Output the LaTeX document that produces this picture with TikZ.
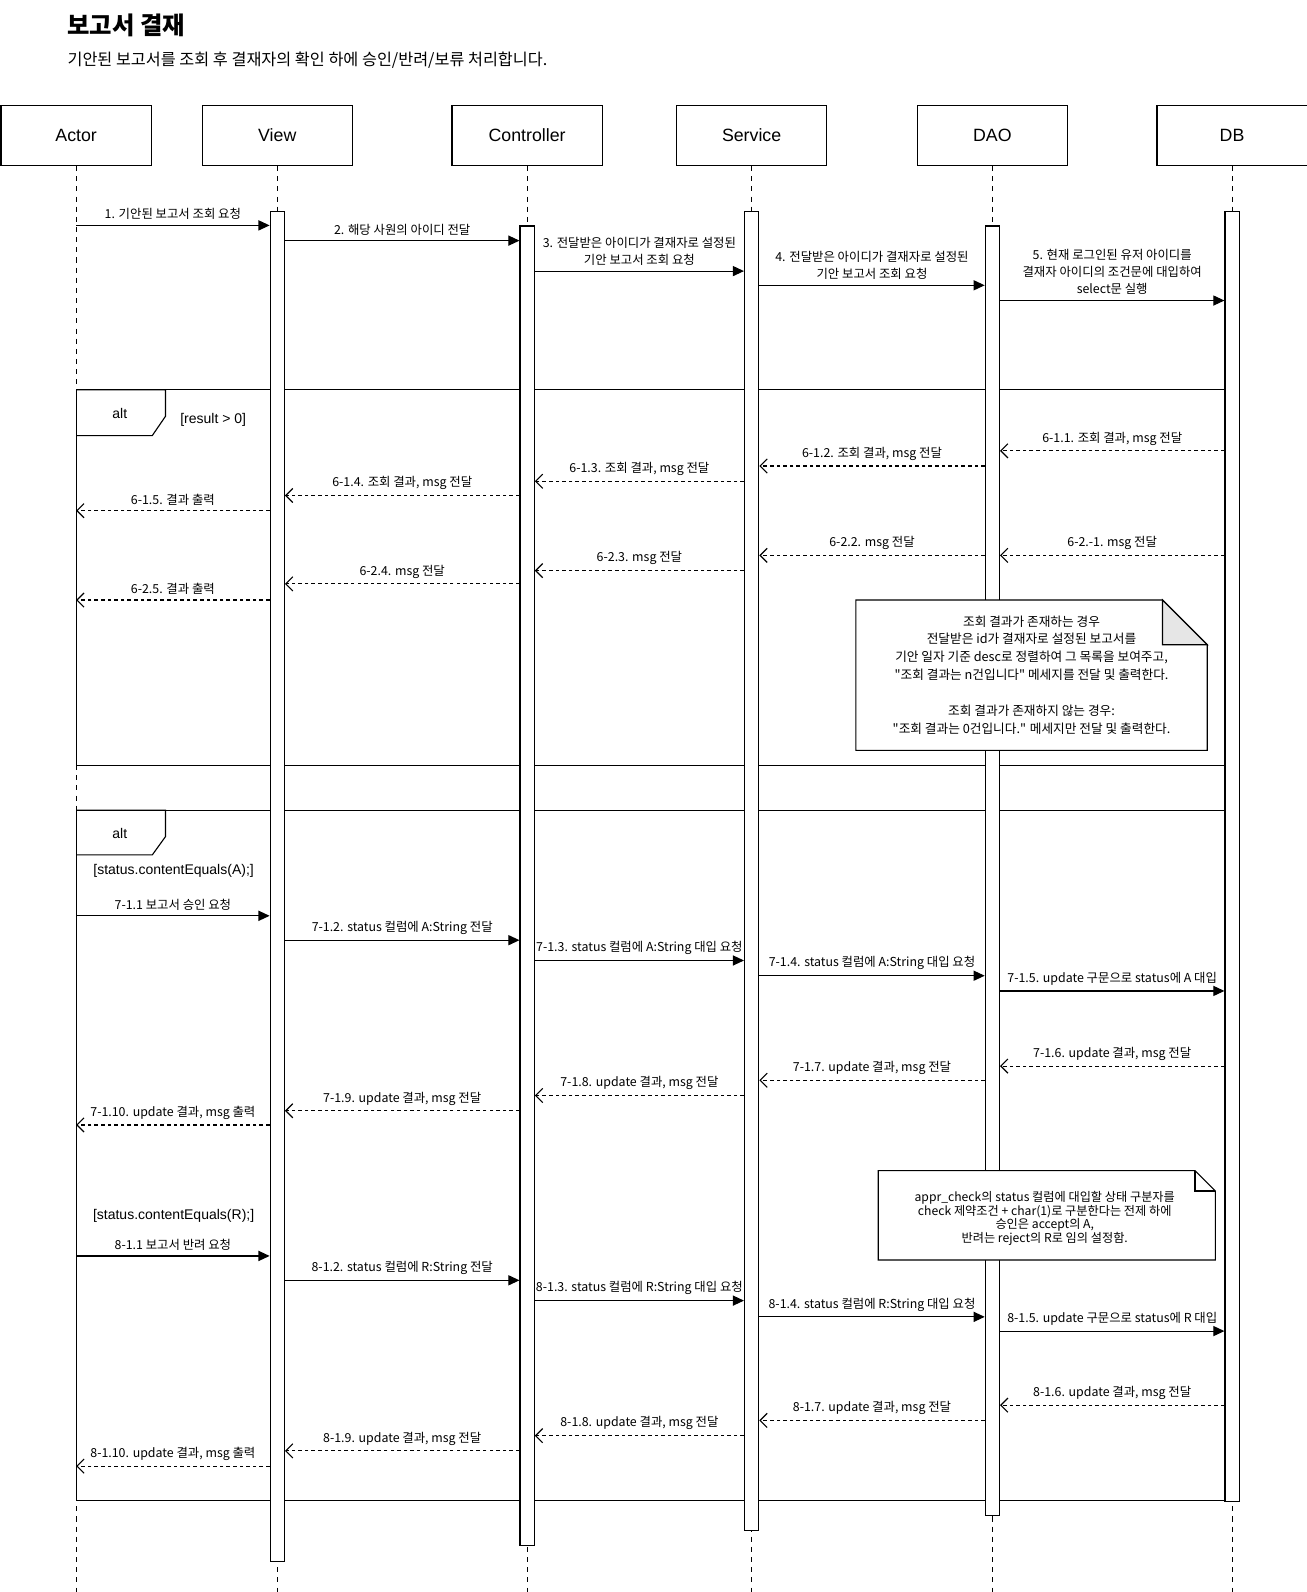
\documentclass[tikz,border=0pt]{standalone}
\usepackage{fontspec}
\setmainfont{Noto Sans CJK KR}
\newfontfamily\arialf{Liberation Sans}
\usetikzlibrary{positioning,arrows.meta}
\definecolor{fold}{RGB}{230,230,230}

\begin{document}
\begin{tikzpicture}[x=1pt,y=-1pt,line width=1.1pt,
  part/.style={draw,minimum width=148pt,minimum height=59pt,inner sep=0pt,
    font=\arialf\fontsize{17.5}{20}\selectfont},
  life/.style={line width=0.9pt,dash pattern=on 5pt off 5pt},
  bar/.style={draw,fill=white,minimum width=14pt,inner sep=0pt,anchor=north},
  call/.style={-{Triangle[length=11pt,width=10pt]}},
  ret/.style={dash pattern=on 3.5pt off 3pt,-{Straight Barb[length=7pt,width=14pt]}},
  lbl/.style={above=4pt,inner sep=1pt,align=center,font=\fontsize{12.2}{17}\selectfont},
  guard/.style={inner sep=0pt,font=\arialf\fontsize{13.8}{16}\selectfont},
  notetxt/.style={inner sep=0pt,align=center}]
  \useasboundingbox (0,0) rectangle (1287,1568);

  % title
  \node[anchor=west,inner sep=0pt,font=\bfseries\fontsize{24}{26}\selectfont] (title) at (66,25) {보고서 결재};
  \node[anchor=west,inner sep=0pt,font=\fontsize{16}{18}\selectfont] (sub) at (66,59)
    {기안된 보고서를 조회 후 결재자의 확인 하에 승인/반려/보류 처리합니다.};

  % participants
  \node[part] (actor) at (75,133.5) {Actor};
  \node[part,right=49pt of actor] (view) {View};
  \node[part,right=97pt of view] (ctrl) {Controller};
  \node[part,right=72pt of ctrl] (svc) {Service};
  \node[part,right=88pt of svc] (dao) {DAO};
  \node[part,right=87pt of dao] (db) {DB};
  \foreach \p in {actor,view,ctrl,svc,dao,db}
    \draw[life] (\p.south) -- (\p |- 0,1568);

  % alt frames
  \draw (actor |- 0,384) rectangle (1206,754);
  \draw (actor |- 0,384) -| (163,410) -- (150,429) -- (actor |- 0,429);
  \node[guard] (alt1) at (118,407) {alt};
  \node[guard] (g1) at (210,414) {[result > 0]};
  \draw (actor |- 0,798) rectangle (1206,1478);
  \draw (actor |- 0,798) -| (163,824) -- (150,842) -- (actor |- 0,842);
  \node[guard] (alt2) at (118,821) {alt};
  \node[guard] (g2) at (171,858) {[status.contentEquals(A);]};
  \node[guard] (g3) at (171,1198) {[status.contentEquals(R);]};

  % activations
  \node[bar,minimum height=1329pt] (vbar) at (view |- 0,208) {};
  \node[bar,minimum height=1300pt] (cbar) at (ctrl |- 0,222) {};
  \node[bar,minimum height=1299pt] (sbar) at (svc |- 0,208) {};
  \node[bar,minimum height=1270pt] (obar) at (dao |- 0,222) {};
  \node[bar,minimum height=1270pt] (bbar) at (db |- 0,208) {};

  % select
  \draw[call] (actor |- 0,222) -- (vbar.west |- 0,222) node[lbl,midway] {1. 기안된 보고서 조회 요청};
  \draw[call] (vbar.east |- 0,237) -- (cbar.west |- 0,237) node[lbl,midway] {2. 해당 사원의 아이디 전달};
  \draw[call] (cbar.east |- 0,267) -- (sbar.west |- 0,267) node[lbl,midway] {3. 전달받은 아이디가 결재자로 설정된\\기안 보고서 조회 요청};
  \draw[call] (sbar.east |- 0,281) -- (obar.west |- 0,281) node[lbl,midway] {4. 전달받은 아이디가 결재자로 설정된\\기안 보고서 조회 요청};
  \draw[call] (obar.east |- 0,296) -- (bbar.west |- 0,296) node[lbl,midway] {5. 현재 로그인된 유저 아이디를\\결재자 아이디의 조건문에 대입하여\\select문 실행};

  \draw[ret] (bbar.west |- 0,444) -- (obar.east |- 0,444) node[lbl,midway] {6-1.1. 조회 결과, msg 전달};
  \draw[ret] (obar.west |- 0,459) -- (sbar.east |- 0,459) node[lbl,midway] {6-1.2. 조회 결과, msg 전달};
  \draw[ret] (sbar.west |- 0,474) -- (cbar.east |- 0,474) node[lbl,midway] {6-1.3. 조회 결과, msg 전달};
  \draw[ret] (cbar.west |- 0,488) -- (vbar.east |- 0,488) node[lbl,midway] {6-1.4. 조회 결과, msg 전달};
  \draw[ret] (vbar.west |- 0,503) -- (actor |- 0,503) node[lbl,midway] {6-1.5. 결과 출력};

  \draw[ret] (bbar.west |- 0,547) -- (obar.east |- 0,547) node[lbl,midway] {6-2.-1. msg 전달};
  \draw[ret] (obar.west |- 0,547) -- (sbar.east |- 0,547) node[lbl,midway] {6-2.2. msg 전달};
  \draw[ret] (sbar.west |- 0,562) -- (cbar.east |- 0,562) node[lbl,midway] {6-2.3. msg 전달};
  \draw[ret] (cbar.west |- 0,575) -- (vbar.east |- 0,575) node[lbl,midway] {6-2.4. msg 전달};
  \draw[ret] (vbar.west |- 0,591) -- (actor |- 0,591) node[lbl,midway] {6-2.5. 결과 출력};

  % note 1
  \draw[fill=white] (843,591) -- (1145,591) -- (1189,635) -- (1189,739) -- (843,739) -- cycle;
  \draw[fill=fold] (1145,591) -- (1145,635) -- (1189,635) -- cycle;
  \node[notetxt,font=\fontsize{12.5}{17.7}\selectfont] (note1) at (1016,665)
    {조회 결과가 존재하는 경우\\전달받은 id가 결재자로 설정된 보고서를\\기안 일자 기준 desc로 정렬하여 그 목록을 보여주고,\\
     \textquotedbl 조회 결과는 n건입니다\textquotedbl{} 메세지를 전달 및 출력한다.\\[17.7pt]
     조회 결과가 존재하지 않는 경우:\\\textquotedbl 조회 결과는 0건입니다.\textquotedbl{} 메세지만 전달 및 출력한다.};

  % approve
  \draw[call] (actor |- 0,902) -- (vbar.west |- 0,902) node[lbl,midway] {7-1.1 보고서 승인 요청};
  \draw[call] (vbar.east |- 0,926) -- (cbar.west |- 0,926) node[lbl,midway] {7-1.2. status 컬럼에 A:String 전달};
  \draw[call] (cbar.east |- 0,946) -- (sbar.west |- 0,946) node[lbl,midway] {7-1.3. status 컬럼에 A:String 대입 요청};
  \draw[call] (sbar.east |- 0,961) -- (obar.west |- 0,961) node[lbl,midway] {7-1.4. status 컬럼에 A:String 대입 요청};
  \draw[call] (obar.east |- 0,976) -- (bbar.west |- 0,976) node[lbl,midway] {7-1.5. update 구문으로 status에 A 대입};
  \draw[ret] (bbar.west |- 0,1050) -- (obar.east |- 0,1050) node[lbl,midway] {7-1.6. update 결과, msg 전달};
  \draw[ret] (obar.west |- 0,1064) -- (sbar.east |- 0,1064) node[lbl,midway] {7-1.7. update 결과, msg 전달};
  \draw[ret] (sbar.west |- 0,1079) -- (cbar.east |- 0,1079) node[lbl,midway] {7-1.8. update 결과, msg 전달};
  \draw[ret] (cbar.west |- 0,1094) -- (vbar.east |- 0,1094) node[lbl,midway] {7-1.9. update 결과, msg 전달};
  \draw[ret] (vbar.west |- 0,1108) -- (actor |- 0,1108) node[lbl,midway] {7-1.10. update 결과, msg 출력};

  % note 2
  \draw[fill=white] (865,1153) -- (1177,1153) -- (1197,1173) -- (1197,1241) -- (865,1241) -- cycle;
  \draw (1177,1153) -- (1177,1173) -- (1197,1173);
  \node[notetxt,font=\fontsize{12}{13.7}\selectfont] (note2) at (1029,1200)
    {appr\_check의 status 컬럼에 대입할 상태 구분자를\\check 제약조건 + char(1)로 구분한다는 전제 하에\\
     승인은 accept의 A,\\반려는 reject의 R로 임의 설정함.};

  % reject
  \draw[call] (actor |- 0,1237) -- (vbar.west |- 0,1237) node[lbl,midway] {8-1.1 보고서 반려 요청};
  \draw[call] (vbar.east |- 0,1261) -- (cbar.west |- 0,1261) node[lbl,midway] {8-1.2. status 컬럼에 R:String 전달};
  \draw[call] (cbar.east |- 0,1281) -- (sbar.west |- 0,1281) node[lbl,midway] {8-1.3. status 컬럼에 R:String 대입 요청};
  \draw[call] (sbar.east |- 0,1297) -- (obar.west |- 0,1297) node[lbl,midway] {8-1.4. status 컬럼에 R:String 대입 요청};
  \draw[call] (obar.east |- 0,1311) -- (bbar.west |- 0,1311) node[lbl,midway] {8-1.5. update 구문으로 status에 R 대입};
  \draw[ret] (bbar.west |- 0,1384) -- (obar.east |- 0,1384) node[lbl,midway] {8-1.6. update 결과, msg 전달};
  \draw[ret] (obar.west |- 0,1399) -- (sbar.east |- 0,1399) node[lbl,midway] {8-1.7. update 결과, msg 전달};
  \draw[ret] (sbar.west |- 0,1414) -- (cbar.east |- 0,1414) node[lbl,midway] {8-1.8. update 결과, msg 전달};
  \draw[ret] (cbar.west |- 0,1429) -- (vbar.east |- 0,1429) node[lbl,midway] {8-1.9. update 결과, msg 전달};
  \draw[ret] (vbar.west |- 0,1444) -- (actor |- 0,1444) node[lbl,midway] {8-1.10. update 결과, msg 출력};
\end{tikzpicture}
\end{document}
